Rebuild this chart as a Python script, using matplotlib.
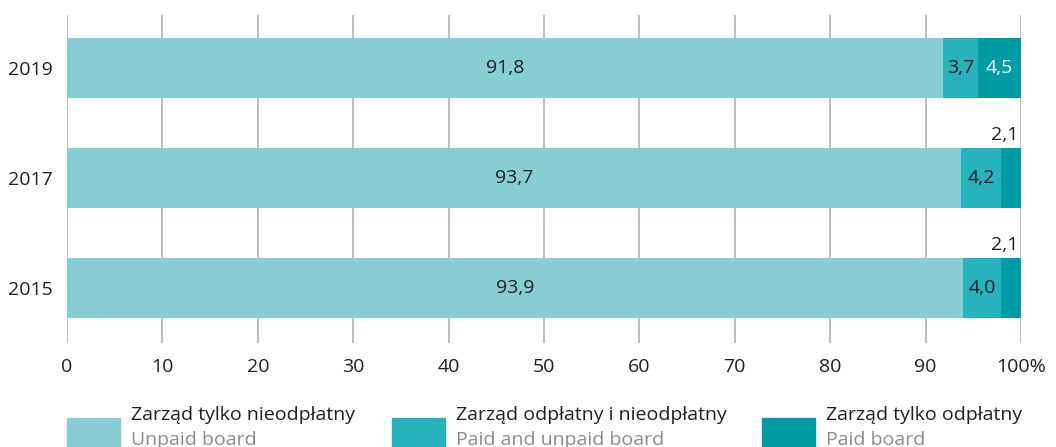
import matplotlib
matplotlib.use('Agg')
import matplotlib.pyplot as plt
from matplotlib.patches import Rectangle

plt.rcParams['font.family'] = ['Open Sans', 'DejaVu Sans']

# Dane
lata = ['2015', '2017', '2019']
nieodplatny = [93.9, 93.7, 91.8]
mieszany = [4.0, 4.2, 3.7]
odplatny = [2.1, 2.1, 4.5]

kolory = ['#86CED4', '#26B3BC', '#009CA6']
legenda_pl = ['Zarząd tylko nieodpłatny', 'Zarząd odpłatny i nieodpłatny', 'Zarząd tylko odpłatny']
legenda_en = ['Unpaid board', 'Paid and unpaid board', 'Paid board']
ticki = [0, 10, 20, 30, 40, 50, 60, 70, 80, 90, 100]
tick_etykiety = ['0', '10', '20', '30', '40', '50', '60', '70', '80', '90', '100%']

fig = plt.figure(figsize=(10.56, 4.47), dpi=100)
ax = fig.add_axes([67/1056, 1 - 343/447, (1021 - 67)/1056, 328/447])

y = list(range(len(lata)))
h = 0.545
ax.barh(y, nieodplatny, height=h, color=kolory[0], edgecolor='none', zorder=2)
ax.barh(y, mieszany, left=nieodplatny, height=h, color=kolory[1], edgecolor='none', zorder=2)
lewe3 = [a + b for a, b in zip(nieodplatny, mieszany)]
ax.barh(y, odplatny, left=lewe3, height=h, color=kolory[2], edgecolor='none', zorder=2)

fs = 14
kolor_txt = '#231F20'
for i in y:
    ax.text(nieodplatny[i] / 2, i, f'{nieodplatny[i]:.1f}'.replace('.', ','),
            ha='center', va='center', fontsize=fs, color=kolor_txt, zorder=3)
    ax.text(nieodplatny[i] + mieszany[i] / 2, i, f'{mieszany[i]:.1f}'.replace('.', ','),
            ha='center', va='center', fontsize=fs, color=kolor_txt, zorder=3)
    s = f'{odplatny[i]:.1f}'.replace('.', ',')
    if odplatny[i] > 3:
        ax.text(lewe3[i] + odplatny[i] / 2, i, s,
                ha='center', va='center', fontsize=fs, color='white', zorder=3)
    else:
        ax.text(99.7, i + h / 2 + 0.04, s,
                ha='right', va='bottom', fontsize=fs, color=kolor_txt, zorder=3)

ax.set_xlim(0, 100)
ax.set_ylim(-0.5, 2.48)
ax.set_xticks(ticki)
ax.set_xticklabels(tick_etykiety, fontsize=fs, color=kolor_txt)
ax.set_yticks(y)
ax.set_yticklabels(lata, fontsize=fs, color=kolor_txt)
ax.tick_params(axis='y', length=0, pad=10)
ax.tick_params(axis='x', length=0, pad=11)
ax.grid(axis='x', color='#B8B8B8', linewidth=1.3, zorder=0)
ax.grid(axis='y', visible=False)
for sp in ax.spines.values():
    sp.set_visible(False)

# Legenda
xs = [67, 392, 762]
for k in range(3):
    fig.patches.append(Rectangle((xs[k] / 1056, 0), 53 / 1056, 29 / 447,
                                 transform=fig.transFigure, color=kolory[k], zorder=1))
    fig.text((xs[k] + 64) / 1056, 1 - 415 / 447, legenda_pl[k], fontsize=fs,
             color=kolor_txt, ha='left', va='center')
    fig.text((xs[k] + 64) / 1056, 1 - 440 / 447, legenda_en[k], fontsize=fs,
             color='#8C8C8C', ha='left', va='center')

fig.savefig('out.png', dpi=100)
